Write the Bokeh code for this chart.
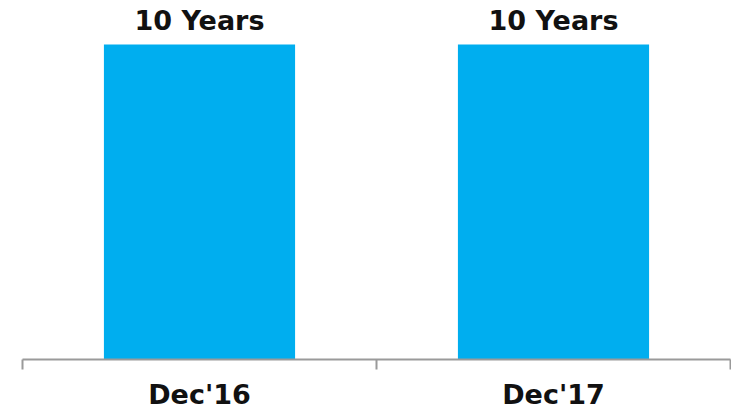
from bokeh.plotting import figure
from bokeh.models import Range1d, LinearAxis, FixedTicker, ColumnDataSource
from bokeh.core.properties import value
from bokeh.embed import file_html
from bokeh.resources import INLINE

# Average maturity by period
categories = ["Dec'16", "Dec'17"]
maturity_years = [10, 10]
bar_labels = ["10 Years", "10 Years"]

# each period occupies one unit slot; bars sit at the slot centres
n = len(categories)
centres = [i + 0.5 for i in range(n)]
source = ColumnDataSource(dict(x=centres, cat=categories,
                               val=maturity_years, lbl=bar_labels))

p = figure(
    width=731, height=412,
    x_range=Range1d(0, n),
    y_range=Range1d(0, 11.4),
    x_axis_type=None, y_axis_type=None,
    output_backend="svg", toolbar_location=None,
    min_border_left=22, min_border_right=1,
    min_border_top=0, min_border_bottom=53,
)
p.outline_line_color = None
p.xgrid.visible = False
p.ygrid.visible = False
p.background_fill_color = "white"
p.border_fill_color = "white"

p.vbar(x="x", top="val", width=0.54, source=source,
       fill_color="#00AEEF", line_color=None)

p.text(x="x", y="val", text="lbl", source=source,
       text_font=value("DejaVu Sans"), text_font_style="bold",
       text_font_size="27px", text_color="#111111",
       text_align="center", text_baseline="alphabetic", y_offset=-24)

# boundary ticks between periods, period names at the centres
axis = LinearAxis(
    ticker=FixedTicker(ticks=centres, minor_ticks=list(range(n + 1))),
    major_label_overrides={c: name for c, name in zip(centres, categories)},
    axis_line_color="#9a9a9a", axis_line_width=2,
    major_tick_line_color=None, major_tick_out=0, major_tick_in=0,
    minor_tick_line_color="#9a9a9a", minor_tick_line_width=2,
    minor_tick_out=10, minor_tick_in=0,
    major_label_standoff=9,
    major_label_text_font="DejaVu Sans",
    major_label_text_font_style="bold",
    major_label_text_font_size="27px",
    major_label_text_color="#111111",
)
p.add_layout(axis, "below")

open("out.html", "w").write(file_html(p, INLINE))
